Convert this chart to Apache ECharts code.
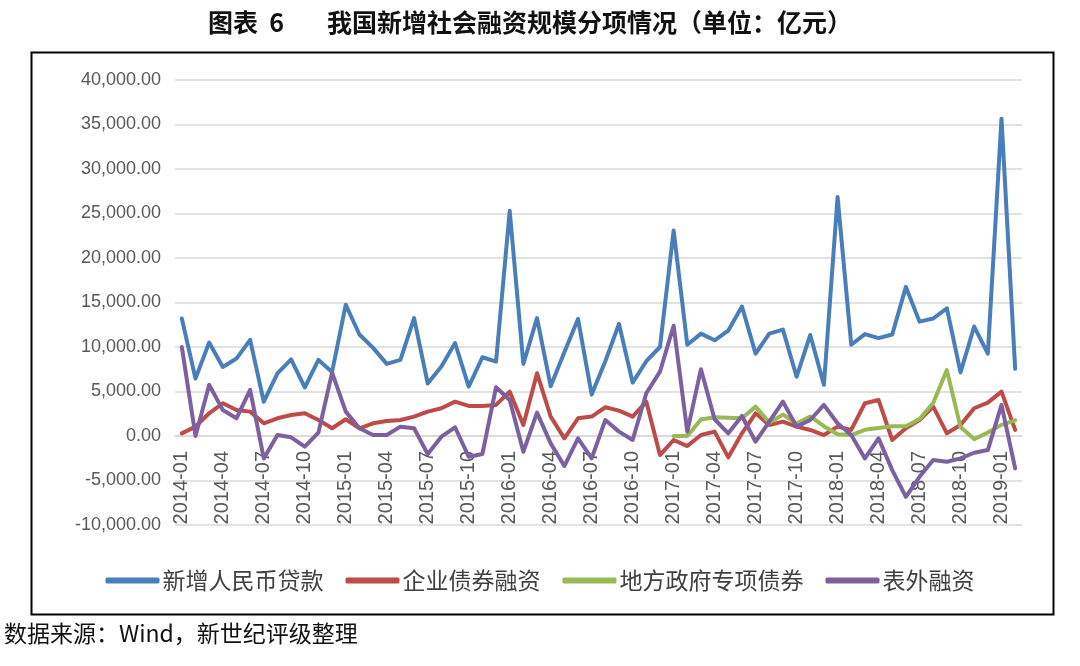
<!DOCTYPE html>
<html>
<head>
<meta charset="utf-8">
<script src="https://cdn.jsdelivr.net/npm/echarts@6/dist/echarts.min.js"></script>
<style>html,body{margin:0;padding:0;background:#fff;}#c{width:1080px;height:666px;}</style>
</head>
<body>
<div id="c"></div>
<script>
var months = ['2014-01','2014-02','2014-03','2014-04','2014-05','2014-06','2014-07','2014-08','2014-09','2014-10','2014-11','2014-12',
'2015-01','2015-02','2015-03','2015-04','2015-05','2015-06','2015-07','2015-08','2015-09','2015-10','2015-11','2015-12',
'2016-01','2016-02','2016-03','2016-04','2016-05','2016-06','2016-07','2016-08','2016-09','2016-10','2016-11','2016-12',
'2017-01','2017-02','2017-03','2017-04','2017-05','2017-06','2017-07','2017-08','2017-09','2017-10','2017-11','2017-12',
'2018-01','2018-02','2018-03','2018-04','2018-05','2018-06','2018-07','2018-08','2018-09','2018-10','2018-11','2018-12',
'2019-01','2019-02'];
var seriesNames = ['新增人民币贷款','企业债券融资','地方政府专项债券','表外融资'];
var rmbLoans = [13200,6445,10500,7750,8700,10800,3850,7030,8600,5450,8550,7200,
14750,11400,9900,8100,8550,13250,5900,7800,10450,5550,8850,8350,
25300,8100,13250,5600,9400,13150,4650,8400,12600,6000,8400,10000,
23100,10250,11500,10750,11850,14550,9250,11500,11950,6650,11350,5750,
26850,10250,11450,11000,11400,16750,12850,13200,14350,7150,12300,9250,
35650,7550];
var corpBonds = [300,1050,2550,3680,2930,2740,1430,1990,2360,2550,1800,870,
1880,870,1430,1690,1800,2180,2740,3120,3860,3380,3380,3490,
4990,1240,7060,2180,-260,1990,2180,3230,2850,2180,3860,-2140,
-450,-1130,110,490,-2400,300,2550,1240,1610,1050,680,110,
1050,680,3680,4050,-450,870,1800,3300,300,1240,3120,3750,
4990,680];
var localSpecialBonds = [null,null,null,null,null,null,null,null,null,null,null,null,
null,null,null,null,null,null,null,null,null,null,null,null,
null,null,null,null,null,null,null,null,null,null,null,null,
0,0,1850,2100,2050,2000,3300,1500,2400,1400,2200,1100,
200,100,700,900,1100,1100,1900,3700,7400,1000,-350,400,
1250,1750];
var offBalance = [9990,0,5740,2930,1990,5180,-2520,110,-150,-1200,380,7130,
2740,870,110,110,1050,870,-2030,-80,980,-2330,-2030,5480,
4050,-1770,2630,-830,-3380,-260,-2520,1800,490,-450,4800,7240,
12390,490,7510,1880,300,2250,-640,1610,3860,1050,1800,3490,
1430,110,-2520,-260,-3830,-6830,-4580,-2700,-2890,-2520,-1880,-1580,
3490,-3640];
var yTicks = {min:-10000, max:40000, step:5000};
var colors = ['#4A7EBB','#BE4B48','#98B954','#7D60A0'];

var chart = echarts.init(document.getElementById('c'), null, {renderer:'canvas'});
function fmt(v){
  var neg = v < 0; v = Math.abs(v);
  var s = v.toFixed(2).split('.');
  s[0] = s[0].replace(/\B(?=(\d{3})+(?!\d))/g, ',');
  return (neg?'-':'') + s[0] + '.' + s[1];
}
var gridTop = 80, gridBottom = 141, H = 666;
var plotH = H - gridTop - gridBottom;
var zeroOffset = plotH * (0 - yTicks.min) / (yTicks.max - yTicks.min);
var dataSets = [rmbLoans, corpBonds, localSpecialBonds, offBalance];
var series = seriesNames.map(function(n,i){
  return {
    name:n, type:'line', data:dataSets[i], symbol:'none', smooth:false,
    lineStyle:{width:4, color:colors[i], join:'round', cap:'round'},
    itemStyle:{color:colors[i]}, connectNulls:false
  };
});
chart.setOption({
  animation:false,
  backgroundColor:'#fff',
  color:colors,
  grid:{left:175, right:58, top:gridTop, bottom:gridBottom, containLabel:false},
  legend:{
    data:seriesNames, top:564, left:'center', icon:'roundRect', itemWidth:54, itemHeight:6,
    itemGap:22,
    textStyle:{fontFamily:'Noto Sans CJK SC', fontSize:23, color:'#404040', padding:[0,0,0,-2]}
  },
  xAxis:{
    type:'category', data:months, boundaryGap:true,
    offset:-zeroOffset,
    axisLine:{onZero:false, lineStyle:{color:'#d9d9d9', width:1.5}},
    axisTick:{show:false},
    axisLabel:{interval:2, rotate:90, fontFamily:'Liberation Sans', fontSize:20, color:'#595959', margin:15}
  },
  yAxis:{
    type:'value', min:yTicks.min, max:yTicks.max, interval:yTicks.step,
    axisLine:{show:false}, axisTick:{show:false},
    splitLine:{lineStyle:{color:'#d9d9d9', width:1.5}},
    axisLabel:{formatter:fmt, fontFamily:'Liberation Sans', fontSize:18, color:'#595959', margin:14}
  },
  graphic:[
    {type:'rect', left:29, top:50, shape:{width:1022, height:562}, style:{fill:'none', stroke:'#000', lineWidth:2}, silent:true},
    {type:'text', left:208, top:10, style:{text:'图表  6', font:'bold 25px "Noto Sans CJK SC"', fill:'#111'}},
    {type:'text', left:327, top:10, style:{text:'我国新增社会融资规模分项情况（单位：亿元）', font:'bold 25px "Noto Sans CJK SC"', fill:'#111'}},
    {type:'text', left:4, top:622, style:{text:'数据来源：Wind，新世纪评级整理', font:'23px "Noto Sans CJK SC"', fill:'#111'}}
  ],
  series:series
});
</script>
</body>
</html>
